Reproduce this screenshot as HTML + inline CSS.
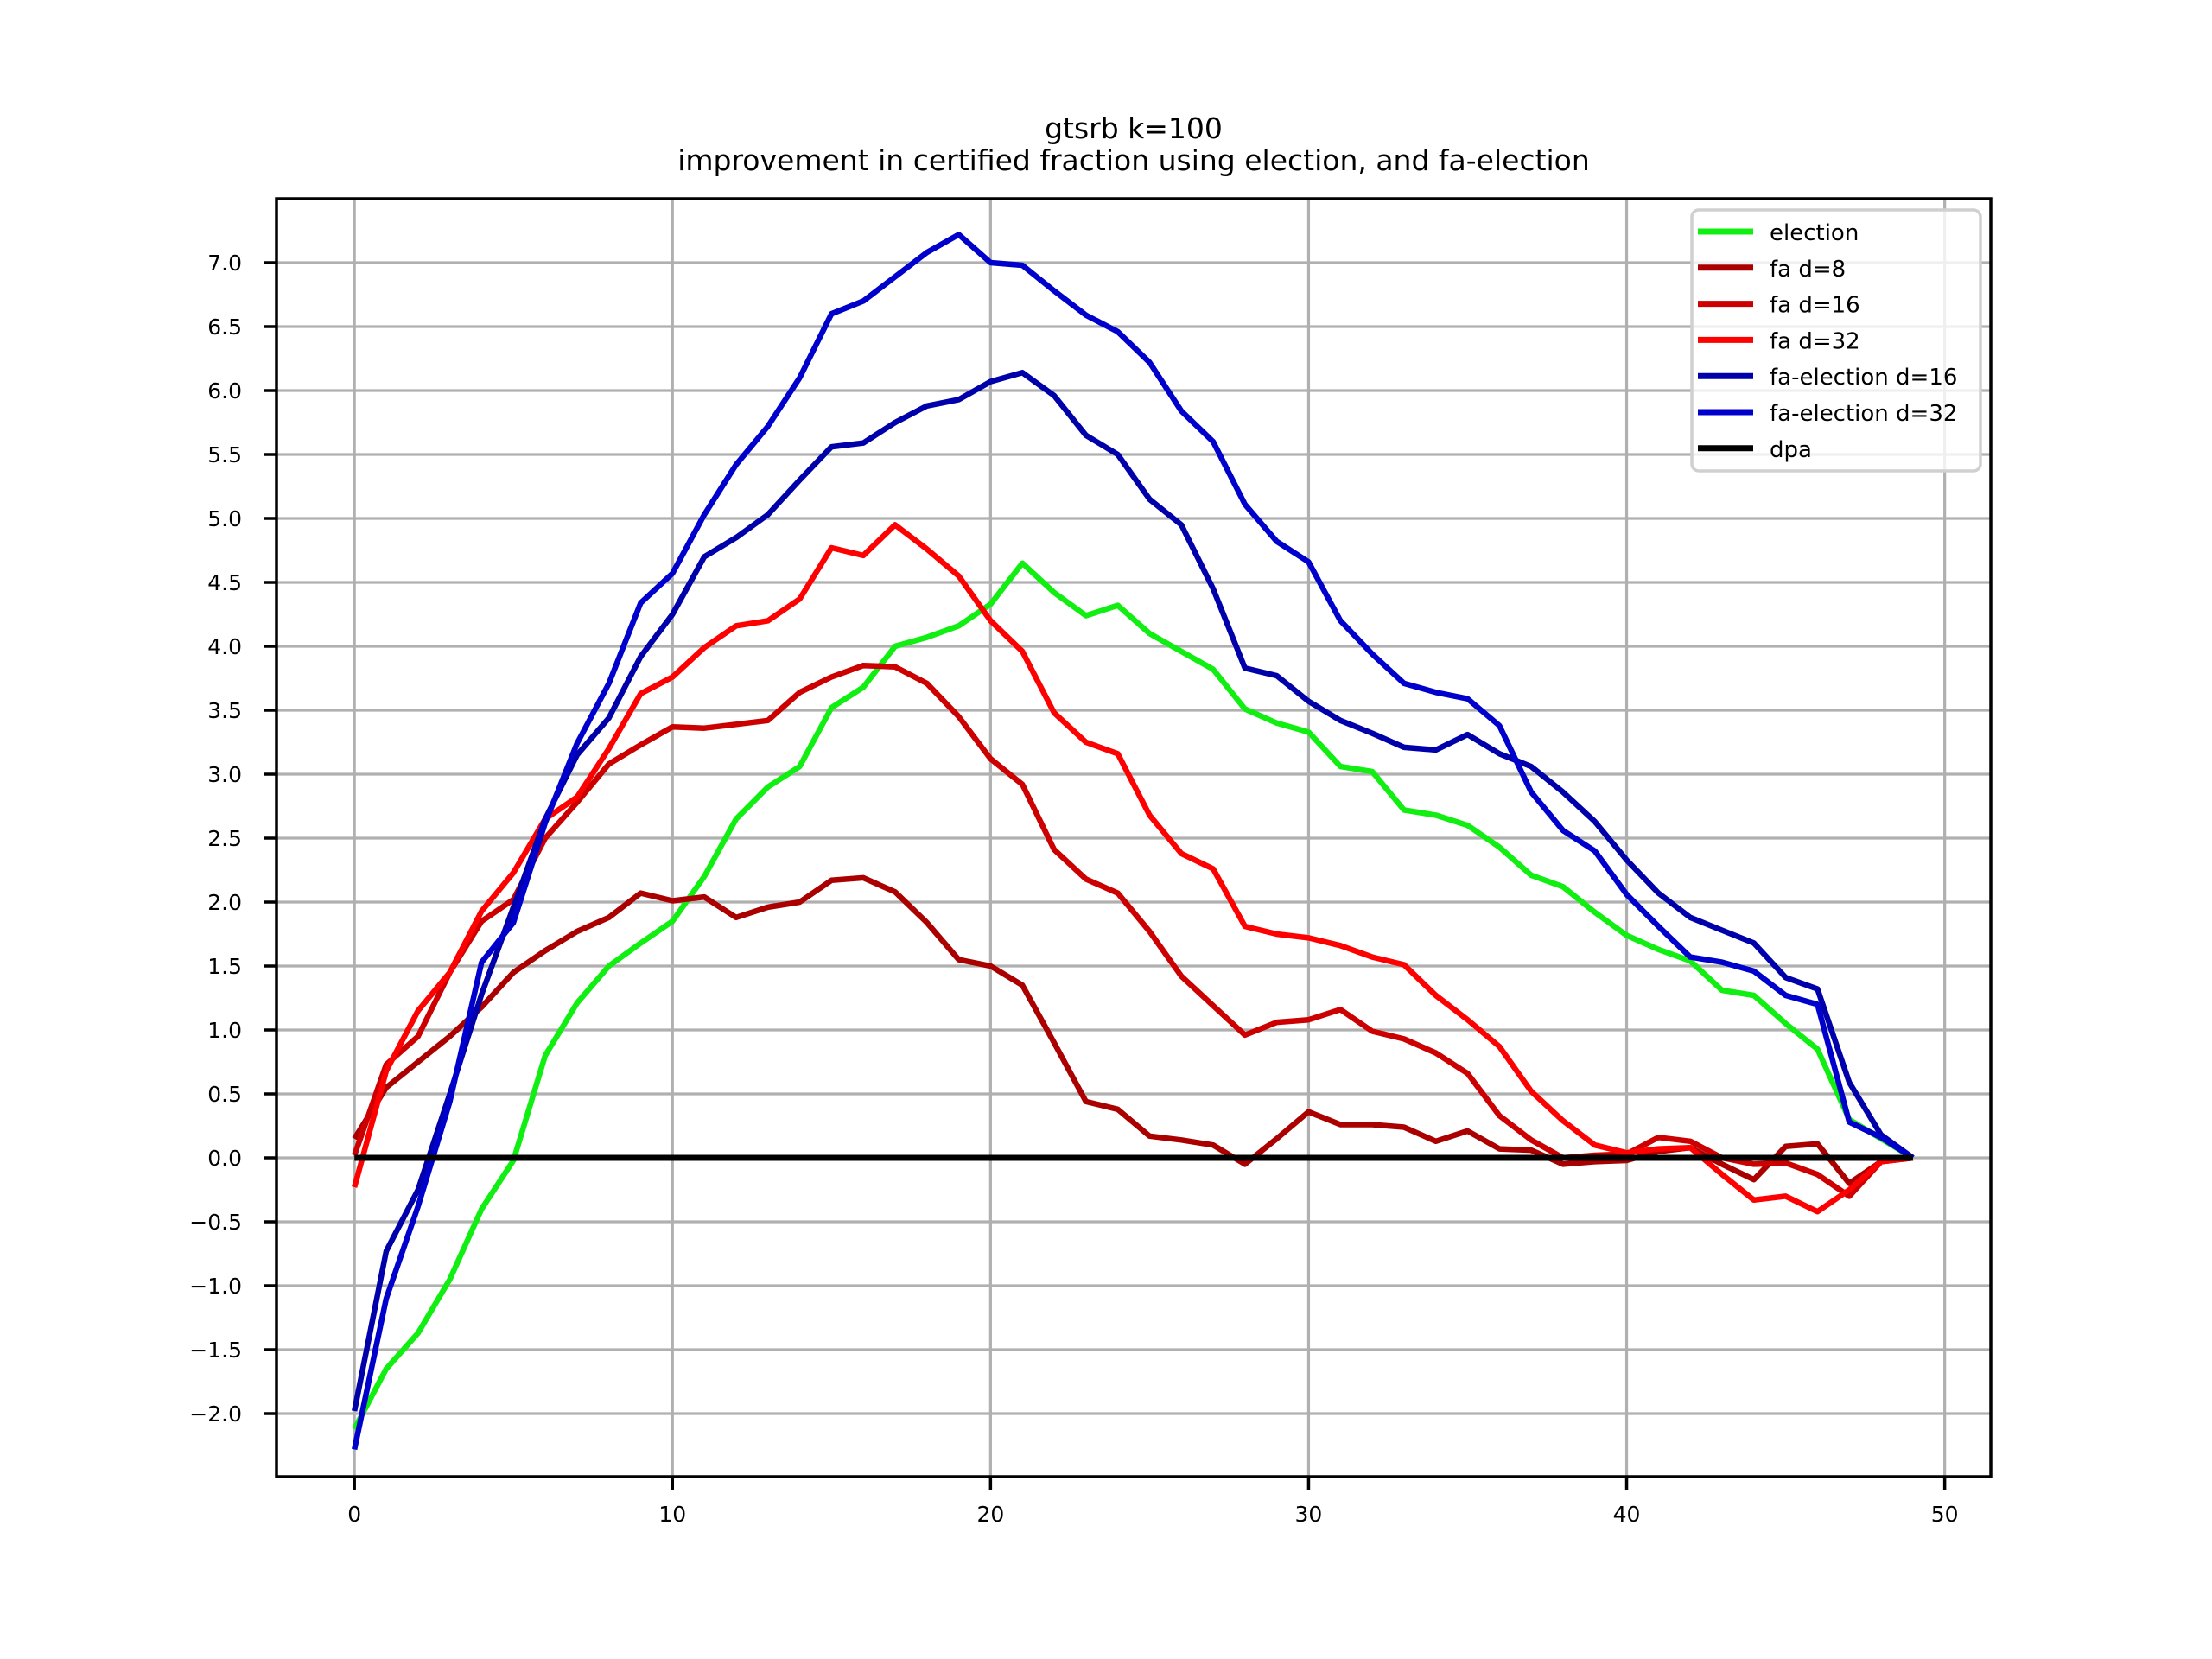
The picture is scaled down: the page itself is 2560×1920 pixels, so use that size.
<!DOCTYPE html>
<html><head><meta charset="utf-8"><style>
html,body{margin:0;padding:0;background:#fff;}
svg{display:block;font-family:"DejaVu Sans","Liberation Sans",sans-serif;}
</style></head><body>
<svg id="chart" width="2560" height="1920" viewBox="0 0 2560 1920" xmlns="http://www.w3.org/2000/svg">
<rect width="2560" height="1920" fill="#fff"/>
<text x="1312" y="160" font-size="33" text-anchor="middle">gtsrb k=100</text>
<text x="1312" y="197" font-size="33" text-anchor="middle">improvement in certified fraction using election, and fa-election</text>
<g id="grid"></g>
<g id="series"></g>
<g id="axes"></g>
<g id="legend"></g>
</svg>
<script>
const xTicks = [0,10,20,30,40,50];
const yTicks = [-2.0,-1.5,-1.0,-0.5,0.0,0.5,1.0,1.5,2.0,2.5,3.0,3.5,4.0,4.5,5.0,5.5,6.0,6.5,7.0];
const seriesNames = ["election","fa d=8","fa d=16","fa d=32","fa-election d=16","fa-election d=32","dpa"];
const seriesColors = ["#11ee11","#aa0000","#cc0000","#ff0000","#0000aa","#0000cc","#000000"];
const election = [-2.12,-1.65,-1.37,-0.95,-0.4,-0.02,0.8,1.21,1.5,1.68,1.85,2.2,2.65,2.9,3.06,3.52,3.68,4.0,4.07,4.16,4.33,4.65,4.42,4.24,4.32,4.1,3.96,3.82,3.51,3.4,3.33,3.06,3.02,2.72,2.68,2.6,2.43,2.21,2.12,1.92,1.74,1.63,1.54,1.31,1.27,1.05,0.85,0.3,0.15,0];
const faD8 = [0.15,0.55,0.75,0.95,1.18,1.45,1.62,1.77,1.88,2.07,2.01,2.04,1.88,1.96,2.0,2.17,2.19,2.08,1.84,1.55,1.5,1.35,0.9,0.44,0.38,0.17,0.14,0.1,-0.05,0.15,0.36,0.26,0.26,0.24,0.13,0.21,0.07,0.06,-0.05,-0.03,-0.02,0.05,0.08,-0.05,-0.17,0.09,0.11,-0.2,-0.03,0];
const faD16 = [0.02,0.73,0.95,1.45,1.85,2.02,2.5,2.78,3.08,3.23,3.37,3.36,3.39,3.42,3.64,3.76,3.85,3.84,3.71,3.45,3.12,2.92,2.41,2.18,2.07,1.77,1.42,1.19,0.96,1.06,1.08,1.16,0.99,0.93,0.82,0.66,0.33,0.14,0.0,0.02,0.03,0.16,0.13,0.0,-0.05,-0.04,-0.13,-0.3,-0.03,0];
const faD32 = [-0.23,0.68,1.15,1.45,1.93,2.23,2.65,2.82,3.2,3.63,3.76,3.99,4.16,4.2,4.37,4.77,4.71,4.95,4.76,4.55,4.2,3.96,3.48,3.25,3.16,2.68,2.38,2.26,1.81,1.75,1.72,1.66,1.57,1.51,1.27,1.08,0.87,0.52,0.29,0.1,0.04,0.07,0.08,-0.13,-0.33,-0.3,-0.42,-0.25,-0.03,0];
const faElD16 = [-1.98,-0.73,-0.25,0.5,1.28,1.96,2.65,3.15,3.44,3.92,4.25,4.7,4.85,5.03,5.3,5.56,5.59,5.75,5.88,5.93,6.07,6.14,5.96,5.65,5.5,5.15,4.95,4.45,3.83,3.77,3.57,3.42,3.32,3.21,3.19,3.31,3.16,3.06,2.86,2.63,2.33,2.07,1.88,1.78,1.68,1.41,1.32,0.59,0.18,0];
const faElD32 = [-2.28,-1.1,-0.38,0.44,1.53,1.84,2.62,3.24,3.71,4.34,4.57,5.03,5.42,5.72,6.1,6.6,6.7,6.89,7.08,7.22,7.0,6.98,6.78,6.59,6.46,6.22,5.84,5.6,5.11,4.82,4.66,4.2,3.94,3.71,3.64,3.59,3.38,2.86,2.56,2.4,2.06,1.81,1.57,1.53,1.46,1.27,1.2,0.28,0.16,0];
const dpa = [0,0,0,0,0,0,0,0,0,0,0,0,0,0,0,0,0,0,0,0,0,0,0,0,0,0,0,0,0,0,0,0,0,0,0,0,0,0,0,0,0,0,0,0,0,0,0,0,0,0];

const NS = "http://www.w3.org/2000/svg";
const L = 320, R = 2304, T = 230, B = 1709;
const X0 = -2.45, X1 = 51.45;
const Y0 = (1340 - B) / 148, Y1 = (1340 - T) / 148;
function sx(v){ return L + (v - X0) / (X1 - X0) * (R - L); }
function sy(v){ return B - (v - Y0) / (Y1 - Y0) * (B - T); }
function mk(tag, attrs, parent){ const e = document.createElementNS(NS, tag); for (const k in attrs) e.setAttribute(k, attrs[k]); parent.appendChild(e); return e; }

const grid = document.getElementById('grid');
xTicks.forEach(t => {
  const g = mk('line', {x1:sx(t), x2:sx(t), y1:T, y2:B, stroke:'#b0b0b0', 'stroke-width':3.2}, grid);
  
  
});
yTicks.forEach(t => {
  const g = mk('line', {x1:L, x2:R, y1:sy(t), y2:sy(t), stroke:'#b0b0b0', 'stroke-width':3.2}, grid);
  
  
});

const allSeries = [election, faD8, faD16, faD32, faElD16, faElD32, dpa];
const sg = document.getElementById('series');
allSeries.forEach((arr, si) => {
  const pts = arr.map((v, i) => sx(i).toFixed(1) + ',' + sy(v).toFixed(1)).join(' ');
  const p = mk('polyline', {points:pts, fill:'none', stroke:seriesColors[si], 'stroke-width': si === 6 ? 7 : 6.5, 'stroke-linejoin':'round'}, sg);
  
  
});

const ax = document.getElementById('axes');
const frame = mk('rect', {x:L, y:T, width:R-L, height:B-T, fill:'none', stroke:'#000', 'stroke-width':3.5}, ax);


xTicks.forEach(t => {
  const tk = mk('line', {x1:sx(t), x2:sx(t), y1:B, y2:B+15, stroke:'#000', 'stroke-width':3.5}, ax);
  
  
  const tx = mk('text', {x:sx(t), y:B+52, 'font-size':25, 'text-anchor':'middle'}, ax);
  tx.textContent = String(t);
  
  
});
yTicks.forEach(t => {
  const tk = mk('line', {x1:L-15, x2:L, y1:sy(t), y2:sy(t), stroke:'#000', 'stroke-width':3.5}, ax);
  
  
  const tx = mk('text', {x:L-40, y:sy(t)+9, 'font-size':25, 'text-anchor':'end'}, ax);
  tx.textContent = (t < 0 ? '\u2212' : '') + Math.abs(t).toFixed(1);
  
  
});

const lg = document.getElementById('legend');
const box = mk('rect', {x:1958, y:243, width:334, height:302, rx:8, fill:'#fff', 'fill-opacity':0.8, stroke:'#d0d0d0', 'stroke-width':3.5}, lg);


seriesNames.forEach((n, i) => {
  const y = 268 + i * 41.8;
  const ln = mk('line', {x1:1965, x2:2029, y1:y, y2:y, stroke:seriesColors[i], 'stroke-width':7}, lg);
  
  
  const tx = mk('text', {x:2048, y:y+10, 'font-size':26}, lg);
  tx.textContent = n;
  
  
});
</script>
</body></html>
